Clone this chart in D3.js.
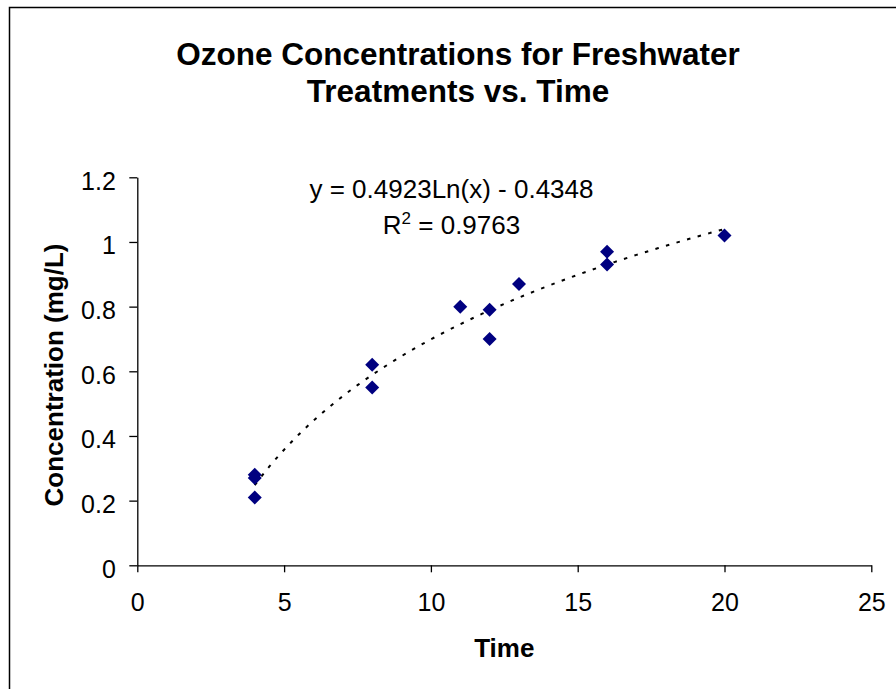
<!DOCTYPE html>
<html>
<head>
<meta charset="utf-8">
<script src="https://cdn.jsdelivr.net/npm/d3@7"></script>
<style>
  body { margin: 0; background: #fff; }
  svg { display: block; font-family: Arial, 'Liberation Sans', sans-serif; }
</style>
</head>
<body>
<div id="chart"></div>
<script>
// measured values
let timeValues = [4, 4, 4, 8, 8, 11, 12, 12, 13, 16, 16, 20]
let concValues = [0.28, 0.27, 0.21, 0.62, 0.55, 0.80, 0.79, 0.70, 0.87, 0.97, 0.93, 1.02]
let xTicks = [0, 5, 10, 15, 20, 25]
let yTicks = [0, 0.2, 0.4, 0.6, 0.8, 1, 1.2]
let trendSlope = 0.4923, trendIntercept = -0.4348, trendR2 = 0.9763
let trendRange = [4, 20]

let width = 896,
  height = 689,
  margin = { top: 177.3, right: 24.7, bottom: 123.7, left: 137.3 }

let x = d3.scaleLinear()
  .domain([0, 25])
  .range([margin.left, width - margin.right])

let y = d3.scaleLinear()
  .domain([0, 1.2])
  .range([height - margin.bottom, margin.top])

let svg = d3.select('#chart').append('svg')
  .attr('width', width)
  .attr('height', height)

// chart area border (cropped at right / bottom)
svg.append('path')
  .attr('d', 'M9.5,' + (height + 5) + 'V7.5H' + (width + 5))
  .attr('fill', 'none')
  .attr('stroke', '#000')
  .attr('stroke-width', 1.5)

// title
let title = svg.append('text')
  .attr('text-anchor', 'middle')
  .attr('font-size', '31.5px')
  .attr('font-weight', 'bold')
title.append('tspan').attr('x', 458).attr('y', 65).text('Ozone Concentrations for Freshwater')
title.append('tspan').attr('x', 458).attr('y', 101.5).text('Treatments vs. Time')

// axes
let xAxis = svg.append('g')
  .attr('transform', 'translate(0,' + y(0) + ')')
  .call(d3.axisBottom(x).tickValues(xTicks).tickSize(7).tickSizeOuter(0).tickPadding(21))

let yAxis = svg.append('g')
  .attr('transform', 'translate(' + x(0) + ',0)')
  .call(d3.axisLeft(y).tickValues(yTicks).tickSize(8).tickSizeOuter(0).tickPadding(13.5)
    .tickFormat(d => String(d)))

;[xAxis, yAxis].forEach(a => {
  a.selectAll('path, line').attr('stroke', '#000').attr('stroke-width', 1.3)
  a.selectAll('text')
    .attr('fill', '#000')
    .attr('font-size', '25px')
    .attr('font-family', 'Arial, Liberation Sans, sans-serif')
})
yAxis.selectAll('text').attr('dy', '0.48em')

// axis titles
svg.append('text')
  .attr('x', (x(0) + x(25)) / 2)
  .attr('y', 657)
  .attr('text-anchor', 'middle')
  .attr('font-size', '26px')
  .attr('font-weight', 'bold')
  .text('Time')

svg.append('text')
  .attr('transform', 'translate(63,375) rotate(-90)')
  .attr('text-anchor', 'middle')
  .attr('font-size', '26px')
  .attr('font-weight', 'bold')
  .text('Concentration (mg/L)')

// logarithmic trendline from the fitted coefficients
let trendX = d3.range(trendRange[0], trendRange[1] + 0.001, 0.25)
let trendLine = d3.line()
  .x(d => x(d))
  .y(d => y(trendSlope * Math.log(d) + trendIntercept))
  .curve(d3.curveMonotoneX)

svg.append('path')
  .datum(trendX)
  .attr('d', trendLine)
  .attr('fill', 'none')
  .attr('stroke', '#000')
  .attr('stroke-width', 2)
  .attr('stroke-dasharray', '3.5,7.5')

// points
let points = timeValues.map((t, i) => ({ t: t, c: concValues[i] }))
let diamond = d3.symbol().type(d3.symbolSquare).size(98)

svg.append('g').selectAll('.pt')
  .data(points)
  .enter().append('path')
  .attr('class', 'pt')
  .attr('d', diamond)
  .attr('transform', d => 'translate(' + x(d.t) + ',' + y(d.c) + ') rotate(45)')
  .attr('fill', '#000080')

// trendline label
let eq = svg.append('text')
  .attr('text-anchor', 'middle')
  .attr('font-size', '26px')
  .attr('fill', '#000')
eq.append('tspan').attr('x', 451.5).attr('y', 198)
  .text('y = ' + trendSlope + 'Ln(x) - ' + Math.abs(trendIntercept))

let r2 = svg.append('text')
  .attr('x', 451.5)
  .attr('y', 234)
  .attr('text-anchor', 'middle')
  .attr('font-size', '26px')
  .attr('fill', '#000')
r2.append('tspan').text('R')
r2.append('tspan').attr('font-size', '17px').attr('dy', '-10').text('2')
r2.append('tspan').attr('dy', '10').text(' = ' + trendR2)
</script>
</body>
</html>
